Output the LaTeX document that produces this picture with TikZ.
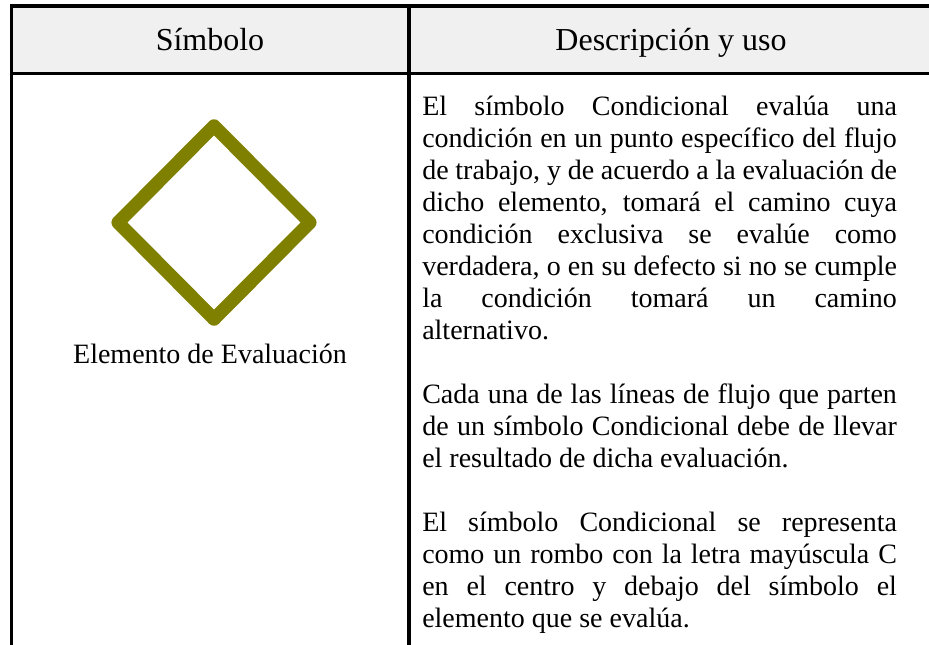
\documentclass[tikz,border=0pt]{standalone}
\usepackage{fontspec}
\setmainfont{Liberation Serif}
\usetikzlibrary{shapes.geometric,positioning}

\definecolor{oliva}{HTML}{808000}
\definecolor{cabecera}{HTML}{F0F0F0}
\tolerance=10000
\hyphenpenalty=10000

\tikzset{
  regla/.style={line width=2.4pt, line cap=rect, line join=miter},
  rombo/.style={diamond, draw=oliva, line width=10pt, line join=round,
    minimum width=148pt, minimum height=149pt, inner sep=0pt, aspect=1},
  titulo/.style={font=\fontsize{24}{28}\selectfont, anchor=base, inner sep=0pt},
  texto/.style={font=\fontsize{21}{24}\selectfont, inner sep=0pt},
}

\begin{document}
\begin{tikzpicture}[x=0.75pt, y=-0.75pt]
  \useasboundingbox (0,0) rectangle (929,644);

  % Table
  \fill[cabecera] (11.5,6) rectangle (929,73.5);
  \draw[regla] (929,6) -- (11.5,6) -- (11.5,644);
  \draw[regla] (11.5,73.5) -- (929,73.5);
  \draw[regla] (409,6) -- (409,644);

  % Define nodes
  \node[titulo] (simbolo) at (210,50) {Símbolo};
  \node[titulo] (descripcion) at (671,50) {Descripción y uso};

  \node[rombo] (cond) at (214,222.5) {};
  \node[texto, anchor=base] (elemento) at (210,363) {Elemento de Evaluación};

  \node[texto, text width=356pt, align=justify, anchor=base west] (uso) at (422,115)
  {El símbolo Condicional evalúa una\linebreak
   condición en un punto específico del flujo\linebreak
   de trabajo, y de acuerdo a la evaluación de\linebreak
   dicho elemento, tomará el camino cuya\linebreak
   condición exclusiva se evalúe como\linebreak
   verdadera, o en su defecto si no se cumple\linebreak
   la condición tomará un camino\linebreak
   alternativo.\par\vspace{24pt}
   Cada una de las líneas de flujo que parten\linebreak
   de un símbolo Condicional debe de llevar\linebreak
   el resultado de dicha evaluación.\par\vspace{24pt}
   El símbolo Condicional se representa\linebreak
   como un rombo con la letra mayúscula C\linebreak
   en el centro y debajo del símbolo el\linebreak
   elemento que se evalúa.};

\end{tikzpicture}
\end{document}
